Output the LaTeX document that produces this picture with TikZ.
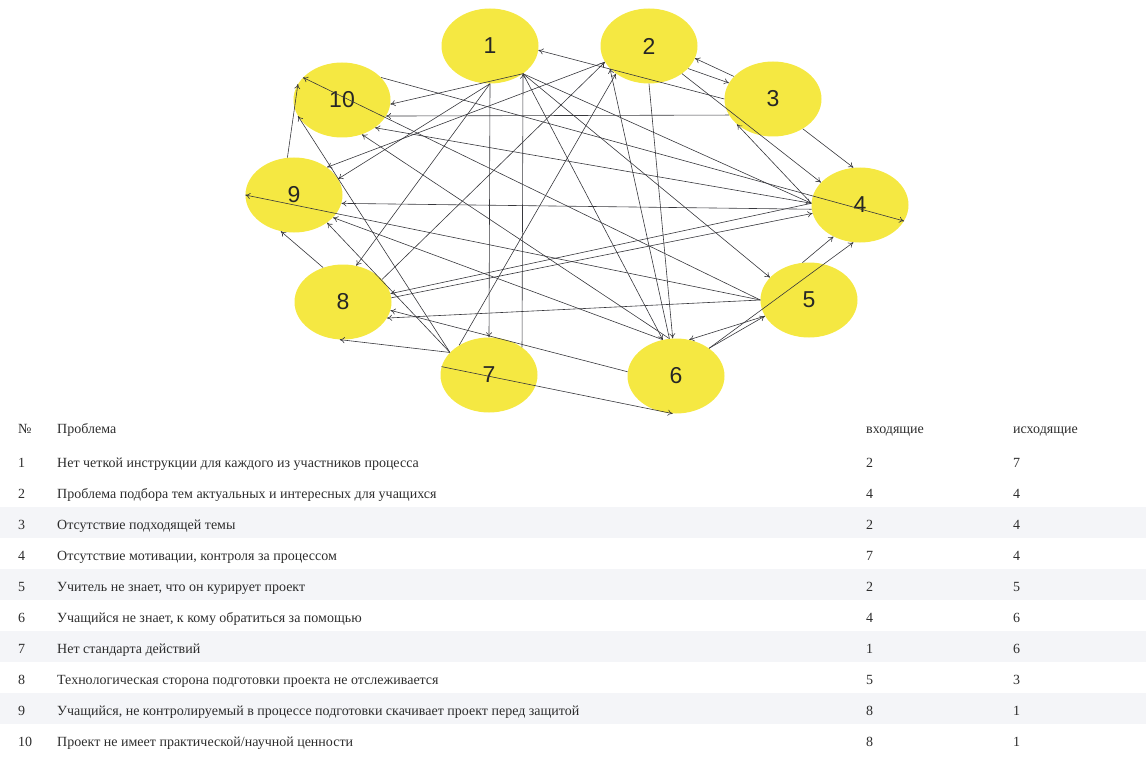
\documentclass[tikz,border=0pt]{standalone}
\usepackage{fontspec}
\setmainfont{Liberation Serif}
\newfontfamily\labelfont{Liberation Sans}
\usetikzlibrary{arrows.meta,shapes.geometric}
\definecolor{nodeyellow}{RGB}{245,232,66}
\definecolor{edgegray}{RGB}{55,55,60}
\definecolor{txt}{RGB}{45,45,45}
\definecolor{stripe}{RGB}{244,245,248}
\begin{document}
\begin{tikzpicture}[x=1pt,y=-1pt,
  vert/.style={ellipse, fill=nodeyellow, minimum width=97pt, minimum height=75pt, inner sep=0pt,
    font=\labelfont\fontsize{23}{23}\selectfont, text=black!85},
  edge/.style={draw=edgegray, line width=0.6pt, -{To[length=5pt,width=6pt]}},
  cell/.style={anchor=base west, font=\fontsize{14}{14}\selectfont, text=txt, inner sep=0pt},
  band/.style={fill=stripe, draw=none}]
\useasboundingbox (0,0) rectangle (1146,765);
% faint row bands
\foreach \y in {507,569,631,693}{\fill[band] (0,\y) rectangle (1146,\y+31);}
% vertices
\node[vert] (n1) at (490,46) {1};
\node[vert] (n2) at (649,46) {2};
\node[vert] (n3) at (773,99) {3};
\node[vert] (n4) at (860,205) {4};
\node[vert] (n5) at (809,300) {5};
\node[vert] (n6) at (676,376) {6};
\node[vert] (n7) at (489,375) {7};
\node[vert] (n8) at (343,302) {8};
\node[vert] (n9) at (294,195) {9};
\node[vert] (n10) at (342,100) {10};
% edges
\draw[edge] (n1.south) -- (n7.north);
\draw[edge] (n1.-40) -- (n4.178);
\draw[edge] (n1.-40) -- (n5.150);
\draw[edge] (n1.-40) -- (n6.110);
\draw[edge] (n1.south) -- (n8.70);
\draw[edge] (n1.south) -- (n9.20);
\draw[edge] (n1.-40) -- (n10.-5);
\draw[edge] (n2.south) -- (n6.95);
\draw[edge] (n2.-30) -- (n3.160);
\draw[edge] (n2.-40) -- (n4.150);
\draw[edge] (n2.200) -- (n9.40);
\draw[edge] (n3.180) -- (n1.-5);
\draw[edge] (n3.150) -- (n2.-15);
\draw[edge] (n3.-45) -- (n4.100);
\draw[edge] (n3.200) -- (n10.-20);
\draw[edge] (n4.178) -- (n3.215);
\draw[edge] (n4.178) -- (n8.10);
\draw[edge] (n4.185) -- (n9.-10);
\draw[edge] (n4.178) -- (n10.-40);
\draw[edge] (n5.100) -- (n4.230);
\draw[edge] (n5.200) -- (n6.70);
\draw[edge] (n5.180) -- (n8.-20);
\draw[edge] (n5.180) -- (n9.180);
\draw[edge] (n5.180) -- (n10.150);
\draw[edge] (n6.100) -- (n2.210);
\draw[edge] (n6.40) -- (n4.260);
\draw[edge] (n6.40) -- (n5.200);
\draw[edge] (n6.175) -- (n8.-10);
\draw[edge] (n6.110) -- (n9.-30);
\draw[edge] (n6.100) -- (n10.-60);
\draw[edge] (n7.40) -- (n1.-40);
\draw[edge] (n7.135) -- (n2.220);
\draw[edge] (n7.170) -- (n6.-95);
\draw[edge] (n7.150) -- (n8.-95);
\draw[edge] (n7.150) -- (n9.-40);
\draw[edge] (n7.150) -- (n10.200);
\draw[edge] (n8.120) -- (n9.-110);
\draw[edge] (n8.5) -- (n4.190);
\draw[edge] (n8.30) -- (n2.200);
\draw[edge] (n9.100) -- (n10.160);
\draw[edge] (n10.30) -- (n4.-20);
% table
\node[cell] (h0) at (18,433) {№};
\node[cell] (h1) at (57,433) {Проблема};
\node[cell] (h2) at (866,433) {входящие};
\node[cell] (h3) at (1013,433) {исходящие};
\foreach \i/\t/\a/\b [count=\k] in {
 1/{Нет четкой инструкции для каждого из участников процесса}/2/7,
 2/{Проблема подбора тем актуальных и интересных для учащихся}/4/4,
 3/{Отсутствие подходящей темы}/2/4,
 4/{Отсутствие мотивации, контроля за процессом}/7/4,
 5/{Учитель не знает, что он курирует проект}/2/5,
 6/{Учащийся не знает, к кому обратиться за помощью}/4/6,
 7/{Нет стандарта действий}/1/6,
 8/{Технологическая сторона подготовки проекта не отслеживается}/5/3,
 9/{Учащийся, не контролируемый в процессе подготовки скачивает проект перед защитой}/8/1,
 10/{Проект не имеет практической/научной ценности}/8/1}{
  \pgfmathsetmacro{\yy}{436+31*\k}
  \node[cell] (r\k a) at (18,\yy) {\i};
  \node[cell] (r\k b) at (57,\yy) {\t};
  \node[cell] (r\k c) at (866,\yy) {\a};
  \node[cell] (r\k d) at (1013,\yy) {\b};
}
\end{tikzpicture}
\end{document}
